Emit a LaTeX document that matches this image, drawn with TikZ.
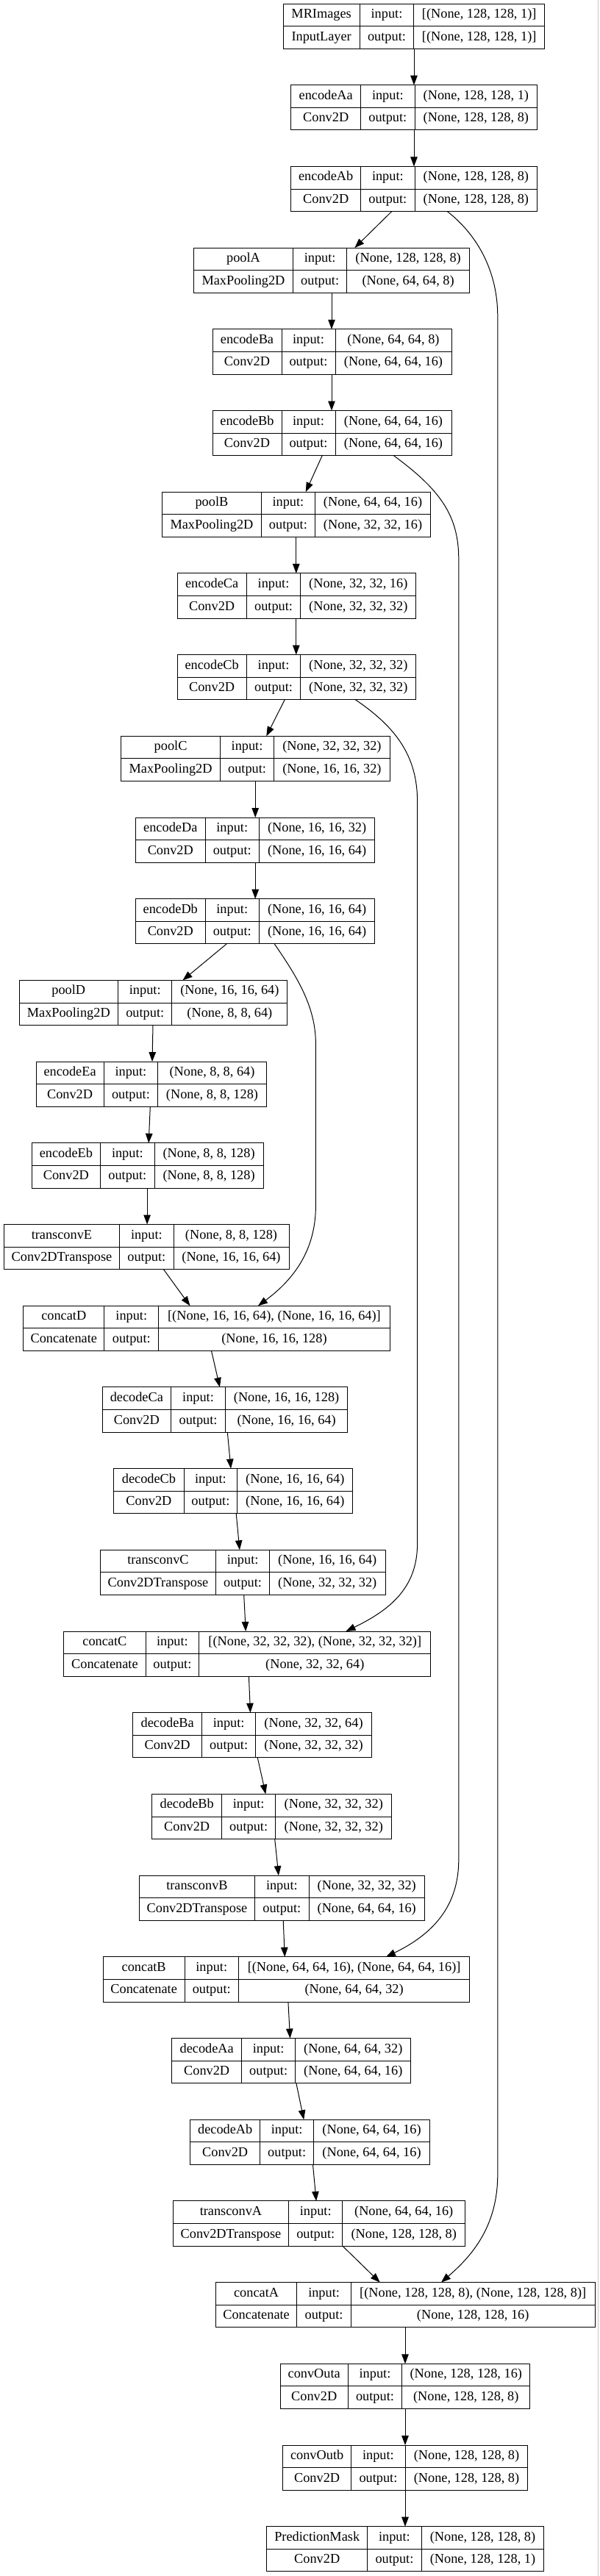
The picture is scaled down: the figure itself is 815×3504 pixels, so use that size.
\documentclass[tikz,border=0pt]{standalone}
\usepackage{fontspec}
\setmainfont{Liberation Serif}
\usetikzlibrary{arrows.meta}
\tikzset{
  lbox/.style={draw=black, line width=1pt, inner sep=0pt, outer sep=0pt, minimum height=61.2pt, anchor=north west},
  cell/.style={draw=black, line width=1pt},
  txt/.style={font=\fontsize{18.3pt}{22pt}\selectfont, inner sep=0pt, anchor=center, text height=12.5pt, text depth=4pt},
  arr/.style={draw=black, line width=1pt, -{Triangle[length=13pt,width=9.5pt]}},
  frame/.style={draw=gray!45, line width=1pt}
}
\newcommand\lay[9]{%
  \pgfmathsetmacro\LyT{5+110.7*#3}%
  \pgfmathsetmacro\LyB{\LyT+61.2}%
  \pgfmathsetmacro\LyM{\LyT+30.6}%
  \pgfmathsetmacro\LyW{#7-#4}%
  \pgfmathsetmacro\LyU{\LyT+15.3}%
  \pgfmathsetmacro\LyL{\LyT+45.9}%
  \node[lbox, minimum width=\LyW pt] (#1) at (#4,\LyT) {};
  \draw[cell] (#5,\LyT) -- (#5,\LyB) (#6,\LyT) -- (#6,\LyB) (#4,\LyM) -- (#7,\LyM);
  \node[txt] (#1-a) at ({(#4+#5)/2},\LyU) {#1};
  \node[txt] (#1-b) at ({(#4+#5)/2},\LyL) {#2};
  \node[txt] (#1-c) at ({(#5+#6)/2},\LyU) {input:};
  \node[txt] (#1-d) at ({(#5+#6)/2},\LyL) {output:};
  \node[txt] (#1-e) at ({(#6+#7)/2},\LyU) {#8};
  \node[txt] (#1-f) at ({(#6+#7)/2},\LyL) {#9};
}
\begin{document}
\begin{tikzpicture}[x=1pt,y=-1pt]
\useasboundingbox (0,0) rectangle (815,3504);
\draw[frame] (813.5,0) -- (813.5,3504);

\lay{MRImages}{InputLayer}{0}{385}{489.3}{562.7}{740.7}{[(None, 128, 128, 1)]}{[(None, 128, 128, 1)]}
\lay{encodeAa}{Conv2D}{1}{395.7}{490.7}{564}{730.7}{(None, 128, 128, 1)}{(None, 128, 128, 8)}
\lay{encodeAb}{Conv2D}{2}{395.7}{490.7}{564}{730.7}{(None, 128, 128, 8)}{(None, 128, 128, 8)}
\lay{poolA}{MaxPooling2D}{3}{263.5}{398.5}{471.8}{638.5}{(None, 128, 128, 8)}{(None, 64, 64, 8)}
\lay{encodeBa}{Conv2D}{4}{289}{383}{456}{614}{(None, 64, 64, 8)}{(None, 64, 64, 16)}
\lay{encodeBb}{Conv2D}{5}{289}{383}{456}{614}{(None, 64, 64, 16)}{(None, 64, 64, 16)}
\lay{poolB}{MaxPooling2D}{6}{220.4}{355.5}{428.3}{585.8}{(None, 64, 64, 16)}{(None, 32, 32, 16)}
\lay{encodeCa}{Conv2D}{7}{241}{335.3}{408.8}{565.8}{(None, 32, 32, 16)}{(None, 32, 32, 32)}
\lay{encodeCb}{Conv2D}{8}{241}{335.3}{408.8}{565.8}{(None, 32, 32, 32)}{(None, 32, 32, 32)}
\lay{poolC}{MaxPooling2D}{9}{164.8}{299.4}{372.7}{530.2}{(None, 32, 32, 32)}{(None, 16, 16, 32)}
\lay{encodeDa}{Conv2D}{10}{184.5}{279.1}{352.4}{509.9}{(None, 16, 16, 32)}{(None, 16, 16, 64)}
\lay{encodeDb}{Conv2D}{11}{184.5}{279.1}{352.4}{509.9}{(None, 16, 16, 64)}{(None, 16, 16, 64)}
\lay{poolD}{MaxPooling2D}{12}{26}{160.6}{233.9}{390.9}{(None, 16, 16, 64)}{(None, 8, 8, 64)}
\lay{encodeEa}{Conv2D}{13}{49}{141.2}{214.7}{362.3}{(None, 8, 8, 64)}{(None, 8, 8, 128)}
\lay{encodeEb}{Conv2D}{14}{43.1}{136.7}{210}{358.2}{(None, 8, 8, 128)}{(None, 8, 8, 128)}
\lay{transconvE}{Conv2DTranspose}{15}{5.2}{162.7}{236}{393}{(None, 8, 8, 128)}{(None, 16, 16, 64)}
\lay{concatD}{Concatenate}{16}{31.7}{141.9}{215.7}{530.2}{[(None, 16, 16, 64), (None, 16, 16, 64)]}{(None, 16, 16, 128)}
\lay{decodeCa}{Conv2D}{17}{139.3}{232.4}{306.7}{472.5}{(None, 16, 16, 128)}{(None, 16, 16, 64)}
\lay{decodeCb}{Conv2D}{18}{154.9}{250}{322.8}{479.8}{(None, 16, 16, 64)}{(None, 16, 16, 64)}
\lay{transconvC}{Conv2DTranspose}{19}{136.2}{293.7}{366.5}{524}{(None, 16, 16, 64)}{(None, 32, 32, 32)}
\lay{concatC}{Concatenate}{20}{86.8}{198}{270.8}{585.8}{[(None, 32, 32, 32), (None, 32, 32, 32)]}{(None, 32, 32, 64)}
\lay{decodeBa}{Conv2D}{21}{180.9}{274.5}{347.8}{505.3}{(None, 32, 32, 64)}{(None, 32, 32, 32)}
\lay{decodeBb}{Conv2D}{22}{206.9}{301.5}{374.8}{532.8}{(None, 32, 32, 32)}{(None, 32, 32, 32)}
\lay{transconvB}{Conv2DTranspose}{23}{189.2}{346.7}{420}{577.5}{(None, 32, 32, 32)}{(None, 64, 64, 16)}
\lay{concatB}{Concatenate}{24}{140.3}{251.1}{324.4}{638.8}{[(None, 64, 64, 16), (None, 64, 64, 16)]}{(None, 64, 64, 32)}
\lay{decodeAa}{Conv2D}{25}{233.9}{328.5}{401.8}{558.8}{(None, 64, 64, 32)}{(None, 64, 64, 16)}
\lay{decodeAb}{Conv2D}{26}{258.9}{353.5}{426.8}{584.3}{(None, 64, 64, 16)}{(None, 64, 64, 16)}
\lay{transconvA}{Conv2DTranspose}{27}{235.3}{392.6}{465.9}{632.6}{(None, 64, 64, 16)}{(None, 128, 128, 8)}
\lay{concatA}{Concatenate}{28}{293.3}{403.9}{477.3}{809.1}{[(None, 128, 128, 8), (None, 128, 128, 8)]}{(None, 128, 128, 16)}
\lay{convOuta}{Conv2D}{29}{381.1}{473.3}{546.7}{720.8}{(None, 128, 128, 16)}{(None, 128, 128, 8)}
\lay{convOutb}{Conv2D}{30}{384.7}{477.6}{551.3}{717.7}{(None, 128, 128, 8)}{(None, 128, 128, 8)}
\lay{PredictionMask}{Conv2D}{31}{362.8}{499.6}{573.3}{739.7}{(None, 128, 128, 8)}{(None, 128, 128, 1)}

% straight connectors
\draw[arr] (MRImages.south -| 563,0) -- (encodeAa.north -| 563,0);
\draw[arr] (encodeAa.south -| 563,0) -- (encodeAb.north -| 563,0);
\draw[arr] (encodeAb.south -| 532.7,0) -- (poolA.north -| 482.4,0);
\draw[arr] (poolA.south -| 451,0) -- (encodeBa.north -| 451,0);
\draw[arr] (encodeBa.south -| 451,0) -- (encodeBb.north -| 451,0);
\draw[arr] (encodeBb.south -| 438.2,0) -- (poolB.north -| 415.8,0);
\draw[arr] (poolB.south -| 402.8,0) -- (encodeCa.north -| 402.8,0);
\draw[arr] (encodeCa.south -| 402.8,0) -- (encodeCb.north -| 402.8,0);
\draw[arr] (encodeCb.south -| 387.2,0) -- (poolC.north -| 362.3,0);
\draw[arr] (poolC.south -| 347.2,0) -- (encodeDa.north -| 347.2,0);
\draw[arr] (encodeDa.south -| 347.2,0) -- (encodeDb.north -| 347.2,0);
\draw[arr] (encodeDb.south -| 308.2,0) -- (poolD.north -| 248.5,0);
\draw[arr] (poolD.south -| 208,0) -- (encodeEa.north -| 207,0);
\draw[arr] (encodeEa.south -| 204.3,0) -- (encodeEb.north -| 202.2,0);
\draw[arr] (encodeEb.south -| 200.1,0) -- (transconvE.north -| 200.1,0);
\draw[arr] (transconvE.south -| 222.5,0) -- (concatD.north -| 258.4,0);
\draw[arr] (concatD.south -| 287.5,0) -- (decodeCa.north -| 298.9,0);
\draw[arr] (decodeCa.south -| 309.3,0) -- (decodeCb.north -| 314,0);
\draw[arr] (decodeCb.south -| 321.2,0) -- (transconvC.north -| 325.9,0);
\draw[arr] (transconvC.south -| 331.7,0) -- (concatC.north -| 334.2,0);
\draw[arr] (concatC.south -| 338.4,0) -- (decodeBa.north -| 340.5,0);
\draw[arr] (decodeBa.south -| 350.3,0) -- (decodeBb.north -| 361.3,0);
\draw[arr] (decodeBb.south -| 373.7,0) -- (transconvB.north -| 378.9,0);
\draw[arr] (transconvB.south -| 385.2,0) -- (concatB.north -| 387.3,0);
\draw[arr] (concatB.south -| 391.9,0) -- (decodeAa.north -| 394.5,0);
\draw[arr] (decodeAa.south -| 402.9,0) -- (decodeAb.north -| 413.2,0);
\draw[arr] (decodeAb.south -| 425.5,0) -- (transconvA.north -| 430.1,0);
\draw[arr] (transconvA.south -| 465.9,0) -- (concatA.north -| 516.8,0);
\draw[arr] (concatA.south -| 551,0) -- (convOuta.north -| 551,0);
\draw[arr] (convOuta.south -| 551,0) -- (convOutb.north -| 551,0);
\draw[arr] (convOutb.south -| 551,0) -- (PredictionMask.north -| 551,0);

% skip connectors
\draw[arr] (encodeAb.south -| 608.3,0) .. controls (650,320) and (676.8,370) .. (676.8,430)
  -- (676.8,2958) .. controls (676.8,3030) and (640,3070) .. (concatA.north -| 600,0);
\draw[arr] (encodeBb.south -| 535.4,0) .. controls (597,665) and (623.8,700) .. (623.8,760)
  -- (623.8,2530) .. controls (623.8,2600) and (580,2635) .. (concatB.north -| 525,0);
\draw[arr] (encodeCb.south -| 483.4,0) .. controls (540,990) and (567.6,1030) .. (567.6,1090)
  -- (567.6,2100) .. controls (567.6,2160) and (530,2190) .. (concatC.north -| 470.4,0);
\draw[arr] (encodeDb.south -| 373.2,0) .. controls (405,1330) and (429.4,1370) .. (429.4,1420)
  -- (429.4,1640) .. controls (429.4,1700) and (400,1740) .. (concatD.north -| 351,0);
\end{tikzpicture}
\end{document}
